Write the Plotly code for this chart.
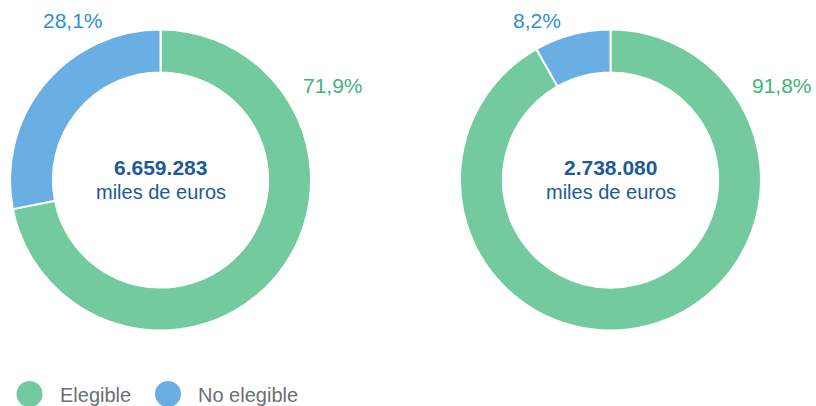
from plotly import graph_objects as go

W, H = 816, 406

# data
categories = ["Elegible", "No elegible"]
pct_left = [71.9, 28.1]
pct_right = [91.8, 8.2]
total_left = "6.659.283"
total_right = "2.738.080"
unit_label = "miles de euros"

colors = ["#73ca9f", "#6aafe3"]
label_colors = ["#3fb377", "#2f8fd8"]
center_color = "#1d5a96"
legend_text_color = "#6b6e73"
FONT = "Liberation Sans, Arial, sans-serif"


def px_x(x):
    return x / W


def px_y(y):
    return 1 - y / H


def fmt(v):
    return f"{v:.1f}".replace(".", ",") + "%"


def note(x, y, text, size, color, xanchor="center"):
    fig.add_annotation(
        x=px_x(x), y=px_y(y), xref="paper", yref="paper",
        xanchor=xanchor, yanchor="middle",
        text=text, showarrow=False,
        font=dict(family=FONT, size=size, color=color),
    )


fig = go.Figure()

pies = [
    (pct_left, total_left, 160.5, [(333, 85), (73, 21)]),
    (pct_right, total_right, 610.5, [(782, 85), (537, 21)]),
]

for vals, total, cx, label_pos in pies:
    r = 150.5
    fig.add_trace(
        go.Pie(
            labels=categories,
            values=vals,
            hole=0.715,
            sort=False,
            direction="clockwise",
            rotation=0,
            textinfo="none",
            hoverinfo="label+percent",
            marker=dict(colors=colors, line=dict(color="white", width=2)),
            domain=dict(
                x=[px_x(cx - r), px_x(cx + r)],
                y=[px_y(180 + r), px_y(180 - r)],
            ),
            showlegend=False,
        )
    )
    # percentage labels
    for i, v in enumerate(vals):
        lx, ly = label_pos[i]
        note(lx, ly, fmt(v), 21, label_colors[i])
    # center text
    note(cx, 167, f"<b>{total}</b>", 21, center_color)
    note(cx, 192, unit_label, 20, center_color)

# legend drawn by hand (round markers)
legend_x = [29.5, 168]
for i, name in enumerate(categories):
    x0 = legend_x[i]
    fig.add_shape(
        type="circle", xref="paper", yref="paper",
        x0=px_x(x0 - 13), x1=px_x(x0 + 13),
        y0=px_y(394 + 13), y1=px_y(394 - 13),
        fillcolor=colors[i], line=dict(width=0),
    )
    note(x0 + 28, 395, name, 20, legend_text_color, xanchor="left")

fig.update_layout(
    width=W,
    height=H,
    margin=dict(l=0, r=0, t=0, b=0),
    paper_bgcolor="white",
    plot_bgcolor="white",
)

fig.write_html(
    "out.html",
    config={"displayModeBar": False},
    post_script="document.body.style.margin='0';",
)
